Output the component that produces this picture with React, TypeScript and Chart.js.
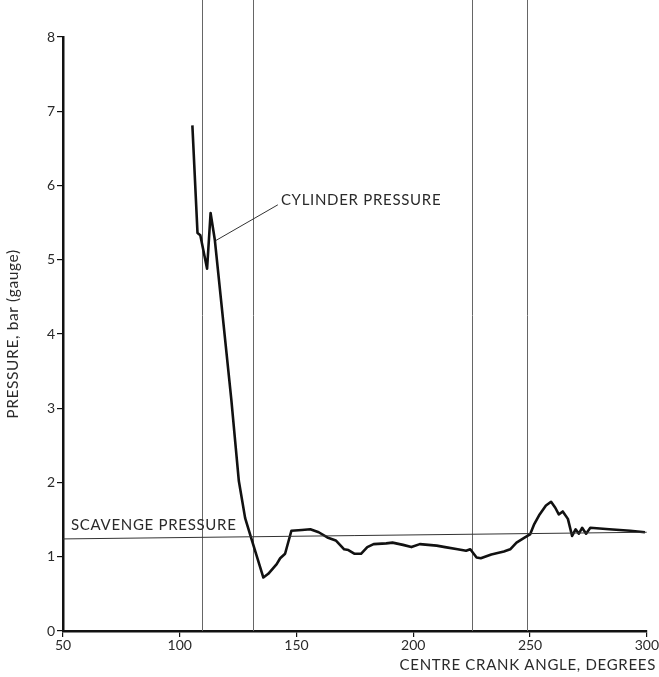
import React, { useEffect, useRef } from "react";
import { Chart, registerables } from "chart.js";

Chart.register(...registerables);

// Cylinder pressure trace (centre crank angle in degrees, pressure bar gauge)
const crankAngle = [
  105.4, 107.6, 108.8, 111.7, 113.2, 115.0, 122.1, 125.3, 128.0, 130.7, 135.8, 137.9,
  141.5, 143.0, 145.1, 147.8, 152.3, 155.9, 159.5, 163.2, 166.8, 170.4, 172.2, 174.9,
  177.6, 180.3, 183.0, 188.4, 191.1, 195.6, 199.2, 202.8, 206.4, 210.0, 213.6, 219.0,
  222.6, 224.4, 227.1, 228.9, 233.4, 238.8, 241.5, 244.2, 247.8, 250.0, 251.8, 254.1,
  256.8, 259.0, 260.8, 262.3, 264.0, 266.2, 268.0, 269.5, 270.9, 272.3, 274.0, 275.8,
  283.9, 292.9, 299.2,
];
const cylinderPressure = [
  6.81, 5.36, 5.33, 4.88, 5.63, 5.27, 3.11, 2.02, 1.52, 1.24, 0.72, 0.77,
  0.9, 0.98, 1.04, 1.35, 1.36, 1.37, 1.33, 1.26, 1.22, 1.1, 1.09, 1.04,
  1.04, 1.13, 1.17, 1.18, 1.19, 1.16, 1.13, 1.17, 1.16, 1.15, 1.13, 1.1,
  1.08, 1.1, 0.99, 0.98, 1.03, 1.07, 1.1, 1.19, 1.26, 1.3, 1.44, 1.57,
  1.69, 1.74, 1.66, 1.57, 1.61, 1.51, 1.28, 1.37, 1.31, 1.39, 1.31, 1.39,
  1.37, 1.35, 1.33,
];

// Scavenge pressure reference line
const scavengeAngle = [50, 300];
const scavengePressure = [1.24, 1.33];

// Vertical reference lines (crank angle)
const verticalLines = [109.5, 131.5, 225, 248.5];

// Axis ticks
const xTicks = [50, 100, 150, 200, 250, 300];
const yTicks = [0, 1, 2, 3, 4, 5, 6, 7, 8];

const FONT = "Lato, 'Open Sans', sans-serif";
const TEXT = "#2a2a2a";

const overlayPlugin = {
  id: "overlay",
  beforeDatasetsDraw(chart: any) {
    const { ctx, chartArea, scales } = chart;
    const xs = scales.x;
    ctx.save();
    ctx.strokeStyle = "#666";
    ctx.lineWidth = 1;
    verticalLines.forEach((v) => {
      const px = Math.round(xs.getPixelForValue(v)) + 0.5;
      ctx.beginPath();
      ctx.moveTo(px, 0);
      ctx.lineTo(px, chartArea.bottom);
      ctx.stroke();
    });
    ctx.restore();
  },
  afterDraw(chart: any) {
    const { ctx, chartArea, scales } = chart;
    const xs = scales.x;
    const ys = scales.y;
    ctx.save();
    ctx.fillStyle = TEXT;
    ctx.font = `15px ${FONT}`;
    (ctx as any).letterSpacing = "0.7px";
    ctx.textBaseline = "middle";

    // Cylinder pressure label + leader
    ctx.strokeStyle = "#333";
    ctx.lineWidth = 1;
    ctx.beginPath();
    ctx.moveTo(xs.getPixelForValue(115.5), ys.getPixelForValue(5.26));
    ctx.lineTo(xs.getPixelForValue(142.0), ys.getPixelForValue(5.74));
    ctx.stroke();
    ctx.textAlign = "left";
    ctx.fillText("CYLINDER PRESSURE", xs.getPixelForValue(143.3), ys.getPixelForValue(5.8));

    // Scavenge pressure label
    ctx.fillText("SCAVENGE PRESSURE", xs.getPixelForValue(53.4), ys.getPixelForValue(1.42));

    // X title
    ctx.textAlign = "right";
    ctx.fillText("CENTRE CRANK ANGLE, DEGREES", 656, 665);

    // Y title
    ctx.font = `15.5px ${FONT}`;
    (ctx as any).letterSpacing = "0.6px";
    ctx.translate(13, (chartArea.top + chartArea.bottom) / 2);
    ctx.rotate(-Math.PI / 2);
    ctx.textAlign = "center";
    ctx.fillText("PRESSURE, bar (gauge)", 0, 0);
    ctx.restore();
  },
};

export default function App() {
  const canvasRef = useRef<HTMLCanvasElement | null>(null);

  useEffect(() => {
    if (!canvasRef.current) return;
    const curve = crankAngle.map((a, i) => ({ x: a, y: cylinderPressure[i] }));
    const scav = scavengeAngle.map((a, i) => ({ x: a, y: scavengePressure[i] }));
    const chart = new Chart(canvasRef.current, {
      type: "line",
      data: {
        datasets: [
          {
            data: scav,
            borderColor: "#333",
            borderWidth: 1,
            pointRadius: 0,
            tension: 0,
          },
          {
            data: curve,
            borderColor: "#111",
            borderWidth: 2.6,
            pointRadius: 0,
            tension: 0,
            borderJoinStyle: "round",
          },
        ],
      },
      options: {
        responsive: false,
        animation: false,
        events: [],
        layout: { padding: { top: 37, right: 11, left: 0, bottom: 0 } },
        plugins: {
          legend: { display: false },
          tooltip: { enabled: false },
          title: { display: false },
        },
        scales: {
          x: {
            type: "linear",
            min: 50,
            max: 300,
            afterBuildTicks: (s: any) => {
              s.ticks = xTicks.map((v) => ({ value: v }));
            },
            afterFit: (s: any) => {
              s.height = 46;
            },
            border: { color: "#111", width: 2.5 },
            grid: {
              drawOnChartArea: false,
              drawTicks: true,
              tickLength: 6,
              color: "#111",
              lineWidth: 1.2,
            },
            ticks: {
              color: TEXT,
              font: { family: FONT, size: 14 },
              padding: 0,
              maxRotation: 0,
              autoSkip: false,
            },
          },
          y: {
            type: "linear",
            min: 0,
            max: 8,
            afterBuildTicks: (s: any) => {
              s.ticks = yTicks.map((v) => ({ value: v }));
            },
            afterFit: (s: any) => {
              s.width = 63;
            },
            border: { color: "#111", width: 2.5 },
            grid: {
              drawOnChartArea: false,
              drawTicks: true,
              tickLength: 6,
              color: "#111",
              lineWidth: 1.2,
            },
            ticks: {
              color: TEXT,
              font: { family: FONT, size: 14 },
              padding: 2,
              autoSkip: false,
            },
          },
        },
      },
      plugins: [overlayPlugin],
    } as any);
    return () => chart.destroy();
  }, []);

  return (
    <div style={{ position: "fixed", left: 0, top: 0, width: 659, height: 677, background: "#fff" }}>
      <canvas ref={canvasRef} width={659} height={677} style={{ display: "block" }} />
    </div>
  );
}
